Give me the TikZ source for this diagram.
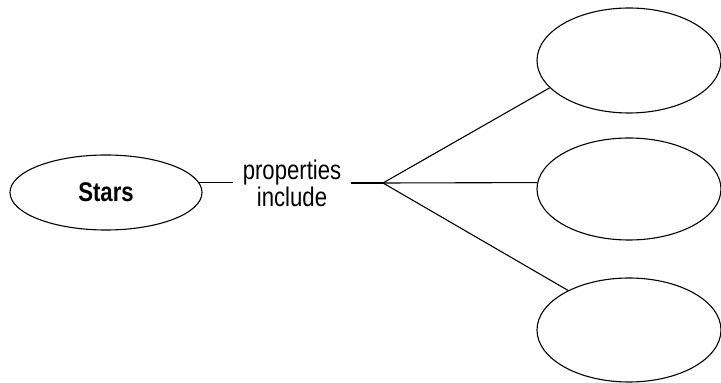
\documentclass[tikz,border=0pt]{standalone}
\usepackage{fontspec}
\setmainfont{Liberation Sans}[FakeStretch=0.82]
\usepackage{tikz}
\usetikzlibrary{shapes.geometric}

\begin{document}
\begin{tikzpicture}[x=1pt,y=1pt,line width=1.1pt,
    concept/.style={draw,ellipse,inner sep=0pt,minimum width=184pt,minimum height=104pt},
    link/.style={align=center,inner xsep=9pt,font=\fontsize{27}{27}\selectfont}]
  \useasboundingbox (0,0) rectangle (721,383);
  \node[concept,minimum width=192pt,minimum height=75pt,font=\fontsize{27}{27}\selectfont\bfseries] (stars) at (106,190.5) {Stars};
  \node[link] (rel) at (292,200) {properties\\include};
  \coordinate (fork) at (383,200);
  \node[concept,minimum height=105pt] (top) at (629,322.5) {};
  \node[concept,minimum height=102pt] (mid) at (629,194) {};
  \node[concept] (bot) at (629,53) {};
  \path[draw]
    (stars.6) edge (stars.6 -| rel.west)
    (rel.east) edge (fork)
    (fork) edge (top.199)
           edge (mid.176)
           edge (bot.147);
\end{tikzpicture}
\end{document}
